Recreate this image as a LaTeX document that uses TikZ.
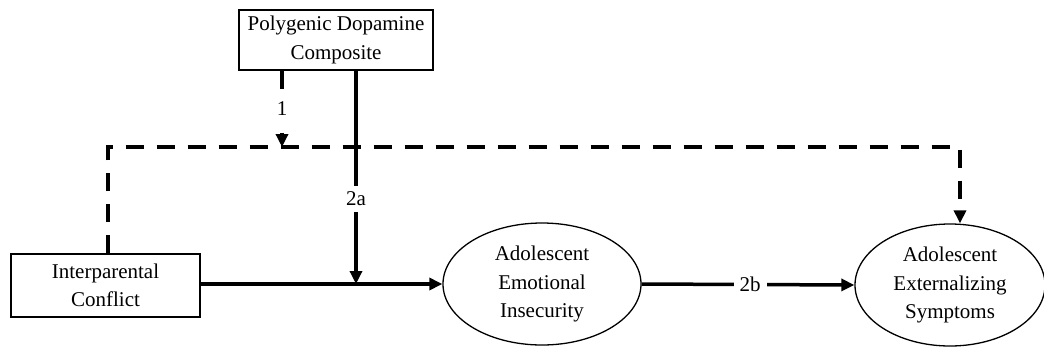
\documentclass[tikz,border=0pt]{standalone}
\usepackage{fontspec}
\setmainfont{Liberation Serif}
\usetikzlibrary{shapes.geometric,arrows.meta,calc}
\begin{document}
\begin{tikzpicture}[x=1pt,y=-1pt,
  txt/.style={font=\fontsize{21}{28.5}\selectfont, align=center},
  boxnode/.style={txt, draw, line width=1.3pt, inner sep=0pt},
  ellnode/.style={txt, draw, ellipse, line width=1.3pt, inner sep=0pt},
  solidline/.style={line width=3.5pt, -{Triangle[length=13pt,width=12pt]}},
  dashline/.style={line width=3.5pt, dash pattern=on 18pt off 13pt},
  lbl/.style={txt, fill=white, inner xsep=6pt, inner ysep=6pt}]
\useasboundingbox (0,0) rectangle (1044,349);
\node[boxnode, minimum width=194pt, minimum height=60pt] (pg) at (336,40) {Polygenic Dopamine\\Composite};
\node[boxnode, minimum width=189pt, minimum height=63pt] (ip) at (105.5,285.5) {Interparental\\Conflict};
\node[ellnode, minimum width=198pt, minimum height=122pt] (ei) at (542,284) {Adolescent\\Emotional\\Insecurity};
\node[ellnode, minimum width=190pt, minimum height=122pt] (es) at (950,285) {Adolescent\\Externalizing\\Symptoms};
\coordinate (c1) at (108,147);
\coordinate (c2) at (960,147);
\coordinate (j1) at (282,147);
\coordinate (j2) at (356,284);
% dashed moderation path
\draw[dashline] (ip.north -| c1) -- (c1) -- (c2) -- ($(c2 |- es.north)+(0,-4)$);
\draw[-{Triangle[length=13pt,width=12pt]}, line width=3.5pt] ($(c2 |- es.north)+(0,-6)$) -- (c2 |- es.north);
% path 1
\draw[dashline, -{Triangle[length=13pt,width=12pt]}] (pg.south -| j1) -- node[lbl, inner ysep=5pt]{1} (j1);
% path 2a
\draw[solidline] (pg.south -| j2) -- node[lbl, pos=0.6]{2a} (j2);
% main path
\draw[solidline] (ip.east |- j2) -- (ei.west);
% path 2b
\draw[solidline] (ei.east) -- node[lbl, pos=0.51]{2b} (es.west);
\end{tikzpicture}
\end{document}
